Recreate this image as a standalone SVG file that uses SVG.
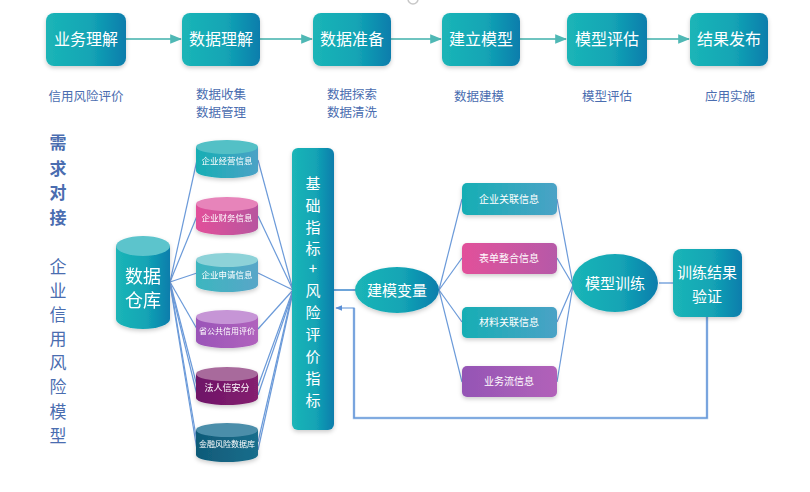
<svg xmlns="http://www.w3.org/2000/svg" width="810" height="492" viewBox="0 0 810 492">
<defs>
<linearGradient id="gTeal" x1="0" y1="0" x2="1" y2="0"><stop offset="0" stop-color="#1bb5b7"/><stop offset="0.55" stop-color="#13a5b5"/><stop offset="1" stop-color="#0a7dac"/></linearGradient>
<linearGradient id="gCyl1" x1="0" y1="0" x2="1" y2="0"><stop offset="0" stop-color="#17aeb4"/><stop offset="1" stop-color="#4aa2c6"/></linearGradient>
<linearGradient id="gCyl2" x1="0" y1="0" x2="1" y2="0"><stop offset="0" stop-color="#e2509a"/><stop offset="1" stop-color="#b8559f"/></linearGradient>
<linearGradient id="gCyl3" x1="0" y1="0" x2="1" y2="0"><stop offset="0" stop-color="#3cb6bf"/><stop offset="1" stop-color="#58a6c8"/></linearGradient>
<linearGradient id="gCyl4" x1="0" y1="0" x2="1" y2="0"><stop offset="0" stop-color="#9a55b8"/><stop offset="1" stop-color="#b062bd"/></linearGradient>
<linearGradient id="gCyl5" x1="0" y1="0" x2="1" y2="0"><stop offset="0" stop-color="#6e1468"/><stop offset="1" stop-color="#85206f"/></linearGradient>
<linearGradient id="gCyl6" x1="0" y1="0" x2="1" y2="0"><stop offset="0" stop-color="#0f5a78"/><stop offset="1" stop-color="#1a6e8c"/></linearGradient>
<linearGradient id="gB2" x1="0" y1="0" x2="1" y2="0"><stop offset="0" stop-color="#e2509a"/><stop offset="1" stop-color="#b65aa8"/></linearGradient>
<linearGradient id="gB4" x1="0" y1="0" x2="1" y2="0"><stop offset="0" stop-color="#9455b5"/><stop offset="1" stop-color="#b262b9"/></linearGradient>
<filter id="sh" x="-20%" y="-20%" width="140%" height="150%"><feDropShadow dx="0" dy="2" stdDeviation="2" flood-color="#000" flood-opacity="0.2"/></filter>
<marker id="arT" viewBox="0 0 10 10" refX="9" refY="5" markerWidth="6" markerHeight="6" orient="auto"><path d="M0,1 L10,5 L0,9 z" fill="#4fb8b5"/></marker>
<marker id="arB" viewBox="0 0 10 10" refX="9" refY="5" markerWidth="6" markerHeight="6" orient="auto"><path d="M0,1 L10,5 L0,9 z" fill="#5a8fd6"/></marker>
<style>
.box{fill:url(#gTeal);filter:url(#sh)}
.wt{font-family:"Noto Sans CJK SC","Noto Sans",sans-serif;fill:#fff;text-anchor:middle}
.sub{font-family:"Noto Sans CJK SC","Noto Sans",sans-serif;fill:#4a6db0;font-size:12.5px;text-anchor:middle}
.side{font-family:"Noto Sans CJK SC","Noto Sans",sans-serif;fill:#4a6db0;font-size:17px;text-anchor:middle}
.flow{stroke:#6fc4c0;stroke-width:2;fill:none}
.ln{stroke:#6b9ad9;stroke-width:1.2;fill:none}
</style>
</defs>
<rect width="810" height="492" fill="#fff"/>
<circle cx="413" cy="-1" r="5" fill="none" stroke="#c8c8c8" stroke-width="1.5"/>

<g id="connectors">
<line class="flow" x1="126" y1="39" x2="181" y2="39" marker-end="url(#arT)"/>
<line class="flow" x1="260" y1="39" x2="312" y2="39" marker-end="url(#arT)"/>
<line class="flow" x1="391" y1="39" x2="441" y2="39" marker-end="url(#arT)"/>
<line class="flow" x1="520" y1="39" x2="566" y2="39" marker-end="url(#arT)"/>
<line class="flow" x1="647" y1="39" x2="689" y2="39" marker-end="url(#arT)"/>
<line class="ln" x1="170" y1="282" x2="197" y2="160"/>
<line class="ln" x1="170" y1="282" x2="197" y2="216"/>
<line class="ln" x1="170" y1="282" x2="197" y2="273"/>
<line class="ln" x1="170" y1="282" x2="197" y2="329"/>
<line class="ln" x1="170" y1="282" x2="197" y2="386"/>
<line class="ln" x1="170" y1="282" x2="197" y2="442"/>
<line class="ln" x1="170" y1="284" x2="197" y2="395"/>
<line class="ln" x1="170" y1="284" x2="197" y2="450"/>
<line class="ln" x1="258" y1="160" x2="293" y2="290"/>
<line class="ln" x1="258" y1="216" x2="293" y2="290"/>
<line class="ln" x1="258" y1="273" x2="293" y2="290"/>
<line class="ln" x1="258" y1="329" x2="293" y2="290"/>
<line class="ln" x1="258" y1="386" x2="293" y2="290"/>
<line class="ln" x1="258" y1="442" x2="293" y2="290"/>
<line class="ln" x1="258" y1="395" x2="293" y2="292"/>
<line class="ln" x1="258" y1="450" x2="293" y2="292"/>
<line stroke="#3c86cc" stroke-width="1.5" x1="334" y1="290" x2="356" y2="290"/>
<line class="ln" x1="439" y1="290" x2="462" y2="199"/>
<line class="ln" x1="439" y1="290" x2="462" y2="258"/>
<line class="ln" x1="439" y1="290" x2="462" y2="322"/>
<line class="ln" x1="439" y1="290" x2="462" y2="382"/>
<line class="ln" x1="557" y1="199" x2="573" y2="285"/>
<line class="ln" x1="557" y1="258" x2="573" y2="285"/>
<line class="ln" x1="557" y1="322" x2="573" y2="285"/>
<line class="ln" x1="557" y1="382" x2="573" y2="285"/>
<line stroke="#5a8fd6" stroke-width="1.2" x1="659" y1="283" x2="673" y2="283"/>
<path stroke="#a9c6ea" stroke-width="2.5" fill="none" d="M707,317 V418 H354 V308"/>
<path stroke="#5a8fd6" stroke-width="1.2" fill="none" d="M707,317 V418 H354 V308 H336" marker-end="url(#arB)"/>
</g>

<g id="step1"><rect class="box" x="46" y="13" width="80" height="53" rx="8"/><text class="wt" x="86" y="45" font-size="16">业务理解</text><text class="sub" x="86" y="101">信用风险评价</text></g>
<g id="step2"><rect class="box" x="182" y="13" width="78" height="53" rx="8"/><text class="wt" x="221" y="45" font-size="16">数据理解</text><text class="sub" x="221" y="99">数据收集</text><text class="sub" x="221" y="117">数据管理</text></g>
<g id="step3"><rect class="box" x="313" y="13" width="78" height="53" rx="8"/><text class="wt" x="352" y="45" font-size="16">数据准备</text><text class="sub" x="352" y="99">数据探索</text><text class="sub" x="352" y="117">数据清洗</text></g>
<g id="step4"><rect class="box" x="442" y="13" width="78" height="53" rx="8"/><text class="wt" x="481" y="45" font-size="16">建立模型</text><text class="sub" x="479" y="101">数据建模</text></g>
<g id="step5"><rect class="box" x="567" y="13" width="80" height="53" rx="8"/><text class="wt" x="607" y="45" font-size="16">模型评估</text><text class="sub" x="607" y="101">模型评估</text></g>
<g id="step6"><rect class="box" x="690" y="13" width="78" height="53" rx="8"/><text class="wt" x="729" y="45" font-size="16">结果发布</text><text class="sub" x="730" y="101">应用实施</text></g>

<g id="side-label">
<text class="side" x="58" y="149" font-weight="bold" fill="#3a5d9e">需</text>
<text class="side" x="58" y="175" font-weight="bold" fill="#3a5d9e">求</text>
<text class="side" x="58" y="199" font-weight="bold" fill="#3a5d9e">对</text>
<text class="side" x="58" y="224" font-weight="bold" fill="#3a5d9e">接</text>
<text class="side" x="58" y="273">企</text>
<text class="side" x="58" y="297">业</text>
<text class="side" x="58" y="321">信</text>
<text class="side" x="58" y="345">用</text>
<text class="side" x="58" y="369">风</text>
<text class="side" x="58" y="393">险</text>
<text class="side" x="58" y="418">模</text>
<text class="side" x="58" y="442">型</text>
</g>

<g id="warehouse" filter="url(#sh)">
<path d="M116,246 V319 A27,10 0 0 0 170,319 V246 Z" fill="url(#gTeal)"/>
<ellipse cx="143" cy="246" rx="27" ry="10" fill="#5cc4cc"/>
<text class="wt" x="143" y="283" font-size="18">数据</text>
<text class="wt" x="143" y="307" font-size="18">仓库</text>
</g>

<g id="cyl1" filter="url(#sh)"><path d="M196,147 V171 A31,7 0 0 0 258,171 V147 Z" fill="url(#gCyl1)"/><ellipse cx="227" cy="147" rx="31" ry="7" fill="#52c0c6"/><text class="wt" x="227" y="164" font-size="8.5">企业经营信息</text></g>
<g id="cyl2" filter="url(#sh)"><path d="M196,204 V228 A31,7 0 0 0 258,228 V204 Z" fill="url(#gCyl2)"/><ellipse cx="227" cy="204" rx="31" ry="7" fill="#e784ba"/><text class="wt" x="227" y="221" font-size="8.5">企业财务信息</text></g>
<g id="cyl3" filter="url(#sh)"><path d="M196,260 V285 A31,7 0 0 0 258,285 V260 Z" fill="url(#gCyl3)"/><ellipse cx="227" cy="260" rx="31" ry="7" fill="#8dd2d8"/><text class="wt" x="227" y="278" font-size="8.5">企业申请信息</text></g>
<g id="cyl4" filter="url(#sh)"><path d="M196,317 V341 A31,7 0 0 0 258,341 V317 Z" fill="url(#gCyl4)"/><ellipse cx="227" cy="317" rx="31" ry="7" fill="#c695d6"/><text class="wt" x="227" y="334" font-size="8">省公共信用评价</text></g>
<g id="cyl5" filter="url(#sh)"><path d="M196,374 V398 A31,7 0 0 0 258,398 V374 Z" fill="url(#gCyl5)"/><ellipse cx="227" cy="374" rx="31" ry="7" fill="#a86a9c"/><text class="wt" x="227" y="391" font-size="9">法人信安分</text></g>
<g id="cyl6" filter="url(#sh)"><path d="M196,430 V455 A31,7 0 0 0 258,455 V430 Z" fill="url(#gCyl6)"/><ellipse cx="227" cy="430" rx="31" ry="7" fill="#4c8eaa"/><text class="wt" x="227" y="447" font-size="8">金融风险数据库</text></g>

<g id="indicators">
<rect class="box" x="292" y="148" width="42" height="282" rx="6"/>
<text class="wt" font-size="15" x="313"><tspan x="313" y="189">基</tspan><tspan x="313" y="211">础</tspan><tspan x="313" y="233">指</tspan><tspan x="313" y="254">标</tspan><tspan x="313" y="274">+</tspan><tspan x="313" y="296">风</tspan><tspan x="313" y="318">险</tspan><tspan x="313" y="340">评</tspan><tspan x="313" y="362">价</tspan><tspan x="313" y="384">指</tspan><tspan x="313" y="406">标</tspan></text>
</g>

<g id="variables"><ellipse cx="397" cy="290" rx="42" ry="23" fill="url(#gTeal)" filter="url(#sh)"/><text class="wt" x="397" y="296" font-size="15">建模变量</text></g>

<g id="info1"><rect x="462" y="183" width="95" height="32" rx="5" fill="url(#gCyl1)" filter="url(#sh)"/><text class="wt" x="509" y="203" font-size="10">企业关联信息</text></g>
<g id="info2"><rect x="462" y="243" width="95" height="31" rx="5" fill="url(#gB2)" filter="url(#sh)"/><text class="wt" x="509" y="262" font-size="10">表单整合信息</text></g>
<g id="info3"><rect x="462" y="307" width="95" height="31" rx="5" fill="url(#gCyl1)" filter="url(#sh)"/><text class="wt" x="509" y="326" font-size="10">材料关联信息</text></g>
<g id="info4"><rect x="462" y="366" width="95" height="31" rx="5" fill="url(#gB4)" filter="url(#sh)"/><text class="wt" x="509" y="385" font-size="10">业务流信息</text></g>

<g id="training"><ellipse cx="615" cy="283" rx="43" ry="29" fill="url(#gTeal)" filter="url(#sh)"/><text class="wt" x="615" y="289" font-size="15">模型训练</text></g>

<g id="verify"><rect class="box" x="673" y="249" width="69" height="68" rx="8"/><text class="wt" x="707" y="278" font-size="15">训练结果</text><text class="wt" x="707" y="302" font-size="15">验证</text></g>
</svg>
